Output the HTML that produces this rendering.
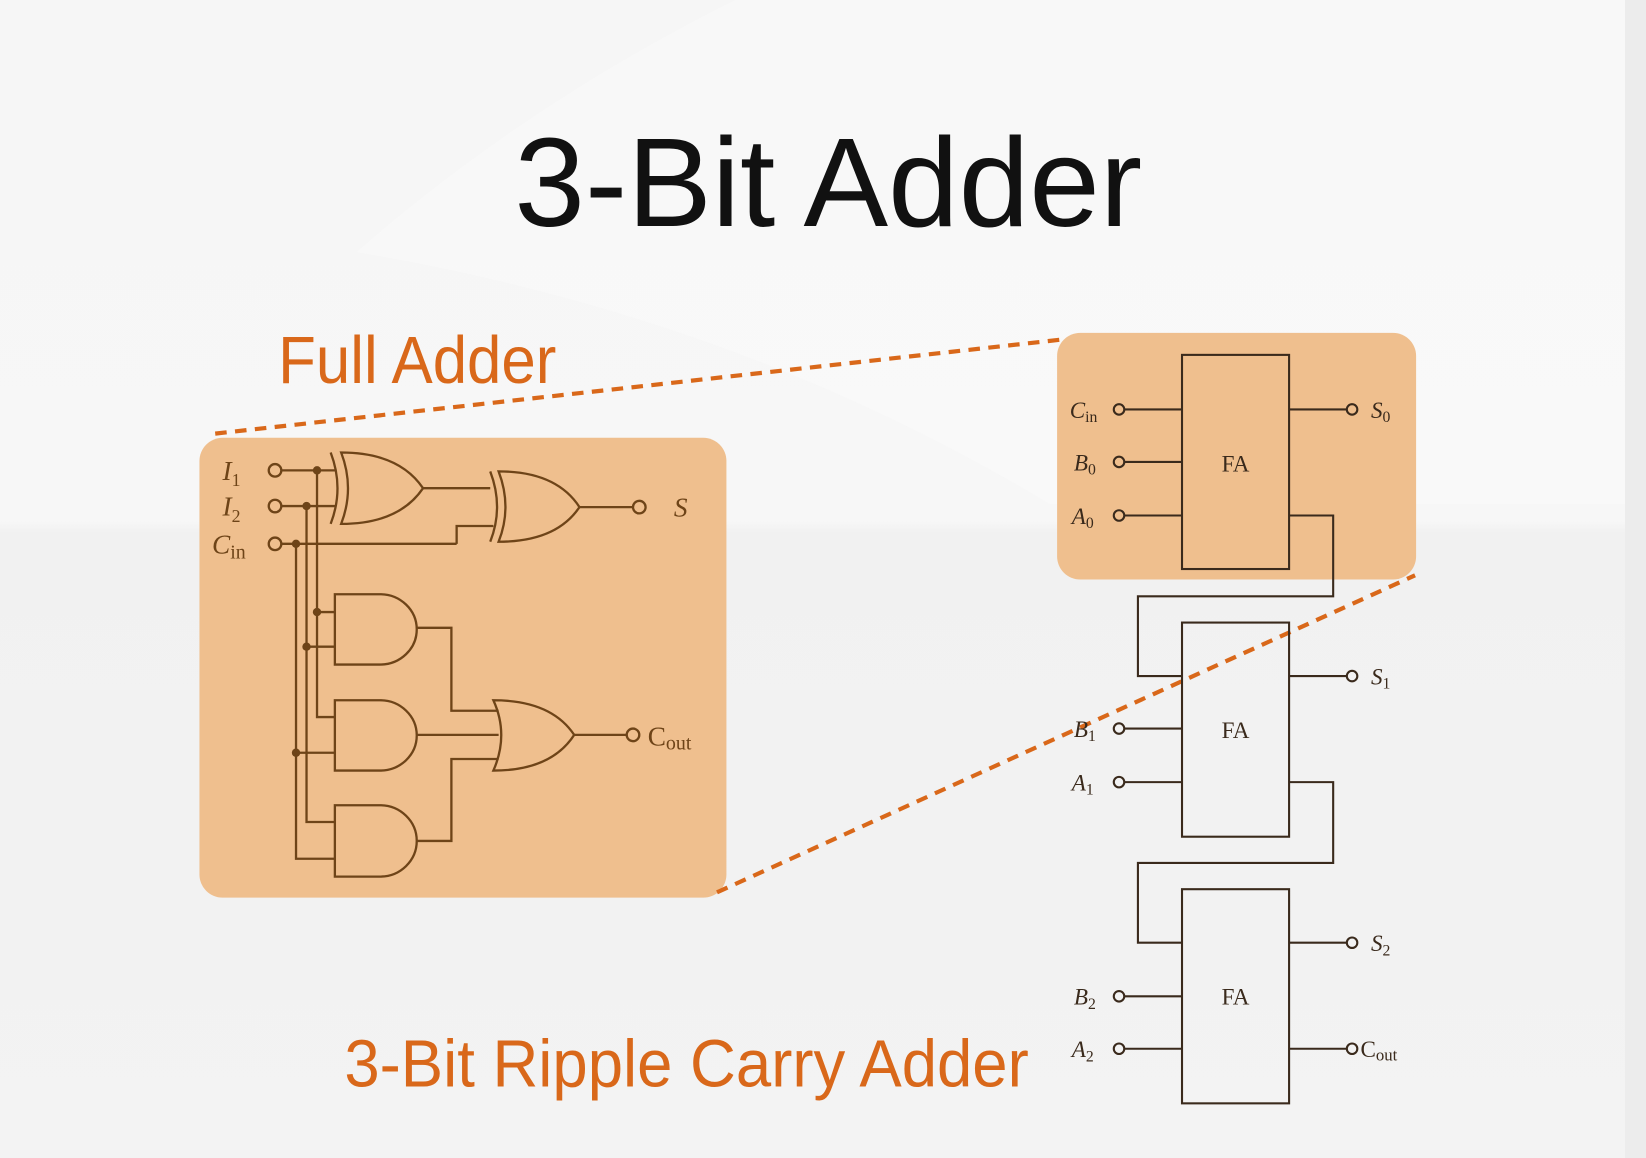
<!DOCTYPE html>
<html><head><meta charset="utf-8"><style>html,body{margin:0;padding:0;background:#f3f3f3}svg{display:block}</style></head>
<body>
<svg width="1646" height="1158" viewBox="0 0 1568 1103" xmlns="http://www.w3.org/2000/svg">
<defs>
<linearGradient id="bg" x1="0" y1="0" x2="0" y2="1">
<stop offset="0" stop-color="#f6f6f6"/><stop offset="0.45" stop-color="#f7f7f7"/><stop offset="0.46" stop-color="#f1f1f1"/><stop offset="1" stop-color="#f3f3f3"/>
</linearGradient>
</defs>
<rect width="1568" height="1103" fill="url(#bg)"/>
<path d="M340 240 Q700 300 1000 480 L1568 480 L1568 0 L700 0 Q500 100 340 240Z" fill="#fafafa" opacity="0.7"/>
<rect x="1548" y="0" width="20" height="1103" fill="#ececec"/>

<text x="490" y="215" font-family="Liberation Sans, sans-serif" font-size="120" textLength="598" lengthAdjust="spacingAndGlyphs" fill="#111">3-Bit Adder</text>
<text x="265" y="365" font-family="Liberation Sans, sans-serif" font-size="64" textLength="265" lengthAdjust="spacingAndGlyphs" fill="#d9681a">Full Adder</text>
<text x="328" y="1035" font-family="Liberation Sans, sans-serif" font-size="64" textLength="652" lengthAdjust="spacingAndGlyphs" fill="#d9681a">3-Bit Ripple Carry Adder</text>

<!-- orange boxes -->
<rect x="190" y="417" width="502" height="438" rx="22" fill="#efbf8e"/>
<rect x="1007" y="317" width="342" height="235" rx="22" fill="#efbf8e"/>

<!-- dashed lines -->
<g stroke="#d9681a" stroke-width="4" stroke-dasharray="11 8" fill="none">
<line x1="205" y1="413" x2="1015" y2="323"/>
<line x1="683" y1="850" x2="1348" y2="548"/>
</g>

<!-- full adder circuit -->
<g stroke="#6e4418" stroke-width="2.2" fill="none">
<circle cx="262" cy="448" r="6"/><circle cx="262" cy="482" r="6"/><circle cx="262" cy="518" r="6"/>
<line x1="268" y1="448" x2="320" y2="448"/>
<line x1="268" y1="482" x2="320" y2="482"/>
<line x1="268" y1="518" x2="435" y2="518"/>
<polyline points="435,518 435,501 470,501"/>
<!-- verticals -->
<polyline points="302,448 302,683 319,683"/>
<polyline points="292,482 292,783 319,783"/>
<polyline points="282,518 282,818 319,818"/>
<line x1="302" y1="583" x2="319" y2="583"/>
<line x1="292" y1="616" x2="319" y2="616"/>
<line x1="282" y1="717" x2="319" y2="717"/>
<!-- XOR1 -->
<path d="M315 431 Q328 465 315 499"/>
<path d="M325 431 Q338 465 325 499 Q380 499 403 465 Q380 431 325 431Z"/>
<line x1="403" y1="465" x2="467" y2="465"/>
<!-- XOR2 -->
<path d="M467 449 Q480 483 467 516"/>
<path d="M475 449 Q488 483 475 516 Q530 516 552 483 Q530 449 475 449Z"/>
<line x1="552" y1="483" x2="603" y2="483"/>
<circle cx="609" cy="483" r="6"/>
<!-- ANDs -->
<path d="M319 566 L362 566 A35 33.5 0 0 1 362 633 L319 633Z"/>
<path d="M319 667 L362 667 A35 33.5 0 0 1 362 734 L319 734Z"/>
<path d="M319 767 L362 767 A35 34 0 0 1 362 835 L319 835Z"/>
<polyline points="397,598 430,598 430,677 475,677"/>
<line x1="397" y1="700" x2="475" y2="700"/>
<polyline points="397,801 430,801 430,723 475,723"/>
<!-- OR -->
<path d="M470 667 Q485 700 470 734 Q525 734 547 700 Q525 667 470 667Z"/>
<line x1="547" y1="700" x2="597" y2="700"/>
<circle cx="603" cy="700" r="6"/>
</g>
<g fill="#6e4418">
<circle cx="302" cy="448" r="4"/><circle cx="292" cy="482" r="4"/><circle cx="282" cy="518" r="4"/>
<circle cx="302" cy="583" r="4"/><circle cx="292" cy="616" r="4"/><circle cx="282" cy="717" r="4"/>
</g>
<g font-family="Liberation Serif, serif" font-style="italic" font-size="26" fill="#6e4418">
<text x="212" y="457">I<tspan font-size="17" dy="6" font-style="normal">1</tspan></text>
<text x="212" y="491">I<tspan font-size="17" dy="6" font-style="normal">2</tspan></text>
<text x="202" y="527">C<tspan font-size="19" dy="5" font-style="normal">in</tspan></text>
<text x="642" y="492">S</text>
<text x="617" y="710" font-style="normal">C<tspan font-size="19" dy="4">out</tspan></text>
</g>

<!-- ripple carry -->
<g stroke="#3a2a1c" stroke-width="2" fill="none">
<rect x="1126" y="338" width="102" height="204"/>
<rect x="1126" y="593" width="102" height="204"/>
<rect x="1126" y="847" width="102" height="204"/>
<g>
<line x1="1071" y1="390" x2="1126" y2="390"/><circle cx="1066" cy="390" r="5"/>
<line x1="1071" y1="440" x2="1126" y2="440"/><circle cx="1066" cy="440" r="5"/>
<line x1="1071" y1="491" x2="1126" y2="491"/><circle cx="1066" cy="491" r="5"/>
<line x1="1228" y1="390" x2="1283" y2="390"/><circle cx="1288" cy="390" r="5"/>
<polyline points="1228,491 1270,491 1270,568 1084,568 1084,644 1126,644"/>
<line x1="1228" y1="644" x2="1283" y2="644"/><circle cx="1288" cy="644" r="5"/>
<line x1="1071" y1="694" x2="1126" y2="694"/><circle cx="1066" cy="694" r="5"/>
<line x1="1071" y1="745" x2="1126" y2="745"/><circle cx="1066" cy="745" r="5"/>
<polyline points="1228,745 1270,745 1270,822 1084,822 1084,898 1126,898"/>
<line x1="1228" y1="898" x2="1283" y2="898"/><circle cx="1288" cy="898" r="5"/>
<line x1="1071" y1="949" x2="1126" y2="949"/><circle cx="1066" cy="949" r="5"/>
<line x1="1071" y1="999" x2="1126" y2="999"/><circle cx="1066" cy="999" r="5"/>
<line x1="1228" y1="999" x2="1283" y2="999"/><circle cx="1288" cy="999" r="5"/>
</g>
</g>
<g font-family="Liberation Serif, serif" font-size="22" fill="#3a2a1c">
<text x="1177" y="449" text-anchor="middle">FA</text>
<text x="1177" y="703" text-anchor="middle">FA</text>
<text x="1177" y="957" text-anchor="middle">FA</text>
<g font-style="italic">
<text x="1019" y="398">C<tspan font-size="15" dy="4" font-style="normal">in</tspan></text>
<text x="1023" y="448">B<tspan font-size="15" dy="4" font-style="normal">0</tspan></text>
<text x="1021" y="499">A<tspan font-size="15" dy="4" font-style="normal">0</tspan></text>
<text x="1306" y="398">S<tspan font-size="15" dy="4" font-style="normal">0</tspan></text>
<text x="1306" y="652">S<tspan font-size="15" dy="4" font-style="normal">1</tspan></text>
<text x="1023" y="702">B<tspan font-size="15" dy="4" font-style="normal">1</tspan></text>
<text x="1021" y="753">A<tspan font-size="15" dy="4" font-style="normal">1</tspan></text>
<text x="1306" y="906">S<tspan font-size="15" dy="4" font-style="normal">2</tspan></text>
<text x="1023" y="957">B<tspan font-size="15" dy="4" font-style="normal">2</tspan></text>
<text x="1021" y="1007">A<tspan font-size="15" dy="4" font-style="normal">2</tspan></text>
</g>
<text x="1296" y="1007">C<tspan font-size="16" dy="3">out</tspan></text>
</g>
</svg>
</body></html>
